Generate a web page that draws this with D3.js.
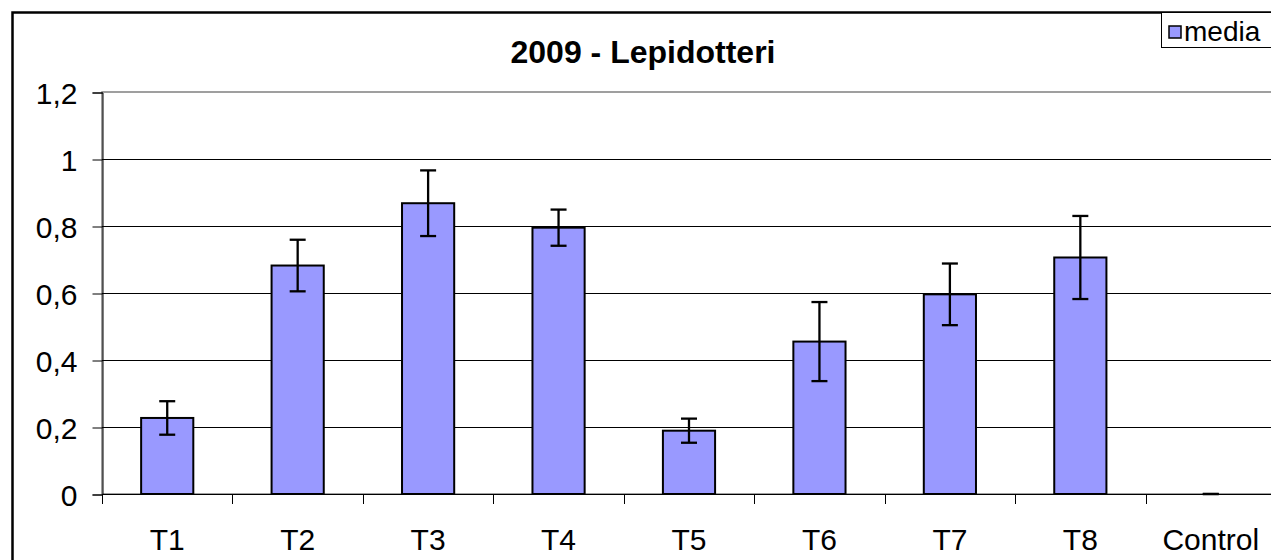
<!DOCTYPE html>
<html>
<head>
<meta charset="utf-8">
<script src="https://cdn.jsdelivr.net/npm/d3@7"></script>
<style>
  body { margin: 0; background: #fff; }
  svg { display: block; font-family: "Liberation Sans", Arial, sans-serif; }
</style>
</head>
<body>
<div id="chart"></div>
<script>
// chart data
var categories = ["T1", "T2", "T3", "T4", "T5", "T6", "T7", "T8", "Control"];
var media = [0.227, 0.682, 0.868, 0.795, 0.189, 0.455, 0.596, 0.706, 0];
var errore = [0.050, 0.077, 0.098, 0.054, 0.036, 0.118, 0.092, 0.124, 0];
var yTicks = [0, 0.2, 0.4, 0.6, 0.8, 1, 1.2];
var yTickLabels = ["0", "0,2", "0,4", "0,6", "0,8", "1", "1,2"];

var w = 1271;
var h = 560;

var svg = d3.select("#chart")
    .append("svg")
    .attr("width", w)
    .attr("height", h);

// plot area
var plotL = 102, plotR = 1276, plotT = 92, plotB = 494;

var x = d3.scaleBand()
    .domain(categories)
    .range([plotL, plotR])
    .padding(0);

var y = d3.scaleLinear()
    .domain([0, 1.2])
    .range([plotB, plotT]);

// outer chart border
svg.append("rect")
    .attr("x", 12.5)
    .attr("y", 12.5)
    .attr("width", w + 20)
    .attr("height", h + 20)
    .style("fill", "none")
    .style("stroke", "#000")
    .style("stroke-width", 2.5);

// plot area border (grey)
svg.append("rect")
    .attr("x", plotL)
    .attr("y", plotT)
    .attr("width", plotR - plotL)
    .attr("height", plotB - plotT)
    .style("fill", "none")
    .style("stroke", "#808080")
    .style("stroke-width", 1.5);

// gridlines
svg.selectAll(".grid")
    .data(yTicks.slice(1, -1))
    .enter()
    .append("line")
    .attr("class", "grid")
    .attr("x1", plotL)
    .attr("x2", plotR)
    .attr("y1", function (d) { return Math.round(y(d)) + 0.5; })
    .attr("y2", function (d) { return Math.round(y(d)) + 0.5; })
    .style("stroke", "#000")
    .style("stroke-width", 1);

// y axis
var yAxis = d3.axisLeft(y)
    .tickValues(yTicks)
    .tickSize(10)
    .tickPadding(15)
    .tickFormat(function (d, i) { return yTickLabels[i]; });

var gy = svg.append("g")
    .attr("transform", "translate(" + (plotL + 0.5) + ",0.5)")
    .call(yAxis);
gy.select(".domain").style("stroke", "#000").style("stroke-width", 1);
gy.selectAll(".tick line").style("stroke", "#000");
gy.selectAll(".tick text")
    .style("font-size", "30px")
    .style("fill", "#000")
    .attr("dy", "0.36em")
    .style("font-family", "'Liberation Sans', Arial, sans-serif");

// x axis with ticks at category boundaries
svg.append("line")
    .attr("x1", plotL)
    .attr("x2", plotR)
    .attr("y1", plotB + 0.5)
    .attr("y2", plotB + 0.5)
    .style("stroke", "#000")
    .style("stroke-width", 1);

svg.selectAll(".xtick")
    .data(categories)
    .enter()
    .append("line")
    .attr("class", "xtick")
    .attr("x1", function (d) { return Math.round(x(d)) + 0.5; })
    .attr("x2", function (d) { return Math.round(x(d)) + 0.5; })
    .attr("y1", plotB)
    .attr("y2", plotB + 10)
    .style("stroke", "#000");

svg.selectAll(".xlabel")
    .data(categories)
    .enter()
    .append("text")
    .attr("class", "xlabel")
    .attr("x", function (d) { return x(d) + x.bandwidth() / 2; })
    .attr("y", 550)
    .attr("text-anchor", "middle")
    .style("font-size", "30px")
    .text(function (d) { return d; });

// bars
var barW = x.bandwidth() * 0.4;

svg.selectAll(".bar")
    .data(categories)
    .enter()
    .append("rect")
    .attr("class", "bar")
    .attr("x", function (d) { return x(d) + (x.bandwidth() - barW) / 2; })
    .attr("y", function (d, i) { return y(media[i]); })
    .attr("width", barW)
    .attr("height", function (d, i) { return y(0) - y(media[i]); })
    .style("fill", "#9999ff")
    .style("stroke", "#000")
    .style("stroke-width", function (d, i) { return media[i] > 0 ? 2 : 0; });

// error bars
var cap = 8;
var err = svg.selectAll(".err")
    .data(categories)
    .enter()
    .append("g")
    .attr("class", "err")
    .style("stroke", "#000")
    .style("stroke-width", 2.3);

err.append("line")
    .attr("x1", function (d) { return x(d) + x.bandwidth() / 2; })
    .attr("x2", function (d) { return x(d) + x.bandwidth() / 2; })
    .attr("y1", function (d, i) { return y(media[i] + errore[i]); })
    .attr("y2", function (d, i) { return y(media[i] - errore[i]); });

err.append("line")
    .attr("x1", function (d) { return x(d) + x.bandwidth() / 2 - cap; })
    .attr("x2", function (d) { return x(d) + x.bandwidth() / 2 + cap; })
    .attr("y1", function (d, i) { return y(media[i] + errore[i]); })
    .attr("y2", function (d, i) { return y(media[i] + errore[i]); });

err.append("line")
    .attr("x1", function (d) { return x(d) + x.bandwidth() / 2 - cap; })
    .attr("x2", function (d) { return x(d) + x.bandwidth() / 2 + cap; })
    .attr("y1", function (d, i) { return y(media[i] - errore[i]); })
    .attr("y2", function (d, i) { return y(media[i] - errore[i]); });

// title
svg.append("text")
    .attr("x", 643)
    .attr("y", 63)
    .attr("text-anchor", "middle")
    .style("font-size", "32px")
    .style("font-weight", "bold")
    .text("2009 - Lepidotteri");

// legend
var legend = svg.append("g")
    .attr("transform", "translate(1161,12)");

legend.append("rect")
    .attr("x", 0.5)
    .attr("y", 0.5)
    .attr("width", 130)
    .attr("height", 35)
    .style("fill", "#fff")
    .style("stroke", "#000")
    .style("stroke-width", 1);

legend.append("rect")
    .attr("x", 8)
    .attr("y", 14)
    .attr("width", 12)
    .attr("height", 12)
    .style("fill", "#9999ff")
    .style("stroke", "#000")
    .style("stroke-width", 1.5);

legend.append("text")
    .attr("x", 23)
    .attr("y", 29)
    .style("font-size", "28px")
    .text("media");
</script>
</body>
</html>
